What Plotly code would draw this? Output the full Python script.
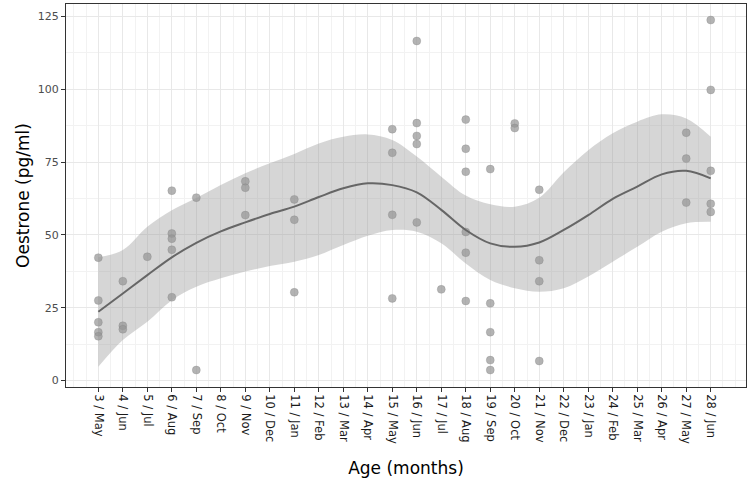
import plotly.graph_objects as go

# Observed points (age in months, oestrone pg/ml)
age = [3, 3, 3, 3, 3,
       4, 4, 4,
       5,
       6, 6, 6, 6, 6,
       7, 7,
       9, 9, 9,
       11, 11, 11,
       15, 15, 15, 15,
       16, 16, 16, 16, 16,
       17,
       18, 18, 18, 18, 18, 18,
       19, 19, 19, 19, 19,
       20, 20,
       21, 21, 21, 21,
       27, 27, 27,
       28, 28, 28, 28, 28]
oestrone = [42.2, 27.5, 20.0, 16.6, 15.2,
            34.1, 18.8, 17.6,
            42.5,
            65.2, 50.5, 48.7, 44.9, 28.6,
            62.8, 3.6,
            68.4, 66.2, 56.8,
            62.2, 55.2, 30.3,
            86.3, 78.2, 56.9, 28.2,
            116.6, 88.4, 84.0, 81.2, 54.3,
            31.3,
            89.6, 79.6, 71.7, 51.0, 43.9, 27.3,
            72.6, 26.5, 16.6, 7.0, 3.6,
            88.3, 86.7,
            65.5, 41.3, 34.1, 6.7,
            85.1, 76.2, 61.1,
            123.8, 99.8, 72.0, 60.7, 57.9]

# Smoothed fit and confidence band
fit_age = [3, 4, 5, 6, 7, 8, 9, 10, 11, 12, 13, 14, 15, 16,
           17, 18, 19, 20, 21, 22, 23, 24, 25, 26, 27, 28]
fit_mid = [23.6, 29.9, 36.2, 42.3, 47.3, 51.2, 54.3, 57.2, 59.7, 63.0, 66.0, 67.7, 67.1, 64.6,
           58.6, 51.7, 47.1, 45.9, 47.4, 51.7, 56.8, 62.4, 66.6, 70.8, 72.0, 69.4]
fit_upper = [42.3, 44.8, 52.8, 58.5, 62.7, 67.1, 71.2, 74.6, 77.8, 81.4, 83.7, 84.5, 82.6, 76.9,
             70.0, 63.5, 60.5, 59.7, 62.8, 71.5, 79.1, 84.9, 88.9, 91.4, 90.0, 83.7]
fit_lower = [4.7, 13.9, 20.2, 27.6, 32.2, 35.1, 37.4, 39.3, 40.8, 43.1, 46.5, 49.7, 51.7, 51.1,
             47.1, 40.2, 34.5, 31.7, 30.5, 31.7, 35.7, 40.8, 45.9, 51.1, 54.0, 54.5]

month_names = ["May", "Jun", "Jul", "Aug", "Sep", "Oct", "Nov", "Dec", "Jan", "Feb", "Mar", "Apr"]
tick_vals = list(range(3, 29))
tick_text = [f"{m} / {month_names[(m - 3) % 12]}" for m in tick_vals]

font = "DejaVu Sans, Verdana, sans-serif"

fig = go.Figure()
fig.add_trace(go.Scatter(x=fit_age, y=fit_upper, mode="lines", line=dict(width=0, shape="spline"),
                         hoverinfo="skip", showlegend=False))
fig.add_trace(go.Scatter(x=fit_age, y=fit_lower, mode="lines", line=dict(width=0, shape="spline"),
                         fill="tonexty", fillcolor="rgba(153,153,153,0.4)",
                         hoverinfo="skip", showlegend=False))
fig.add_trace(go.Scatter(x=age, y=oestrone, mode="markers",
                         marker=dict(size=8, color="rgba(150,150,150,0.72)",
                                     line=dict(width=0.5, color="rgba(130,130,130,0.6)")),
                         showlegend=False))
fig.add_trace(go.Scatter(x=fit_age, y=fit_mid, mode="lines",
                         line=dict(color="#666666", width=2, shape="spline"), showlegend=False))

fig.update_layout(
    width=750, height=482,
    margin=dict(l=66, r=4, t=4, b=95),
    paper_bgcolor="white", plot_bgcolor="white",
    font=dict(family=font, color="#4d4d4d"),
    showlegend=False,
)
fig.update_xaxes(
    automargin=False,
    range=[1.68, 29.44],
    tickmode="array", tickvals=tick_vals, ticktext=tick_text,
    tickangle=90, tickfont=dict(size=11.5, color="#1a1a1a", family=font),
    ticks="outside", ticklen=4, tickcolor="#333333",
    showgrid=True, gridcolor="#e8e8e8", gridwidth=1,
    minor=dict(tickmode="linear", tick0=0, dtick=0.5, showgrid=True, gridcolor="#f2f2f2", gridwidth=1, ticks=""),
    zeroline=False,
    showline=True, linecolor="#333333", linewidth=1, mirror=True,
    title=dict(text="Age (months)", font=dict(size=17, color="#000000", family=font), standoff=19),
)
fig.update_yaxes(
    automargin=False,
    range=[-2.23, 129.3],
    tickmode="array", tickvals=[0, 25, 50, 75, 100, 125],
    tickfont=dict(size=11, color="#4d4d4d", family=font),
    ticks="outside", ticklen=4, tickcolor="#333333",
    showgrid=True, gridcolor="#e8e8e8", gridwidth=1,
    minor=dict(tickmode="linear", tick0=0, dtick=12.5, showgrid=True, gridcolor="#f2f2f2", gridwidth=1, ticks=""),
    zeroline=False,
    showline=True, linecolor="#333333", linewidth=1, mirror=True,
    title=dict(text="Oestrone (pg/ml)", font=dict(size=17, color="#000000", family=font), standoff=3),
)

fig.write_html("out.html",
               config={"displayModeBar": False},
               post_script="document.body.style.margin='0px';document.body.style.overflow='hidden';")
